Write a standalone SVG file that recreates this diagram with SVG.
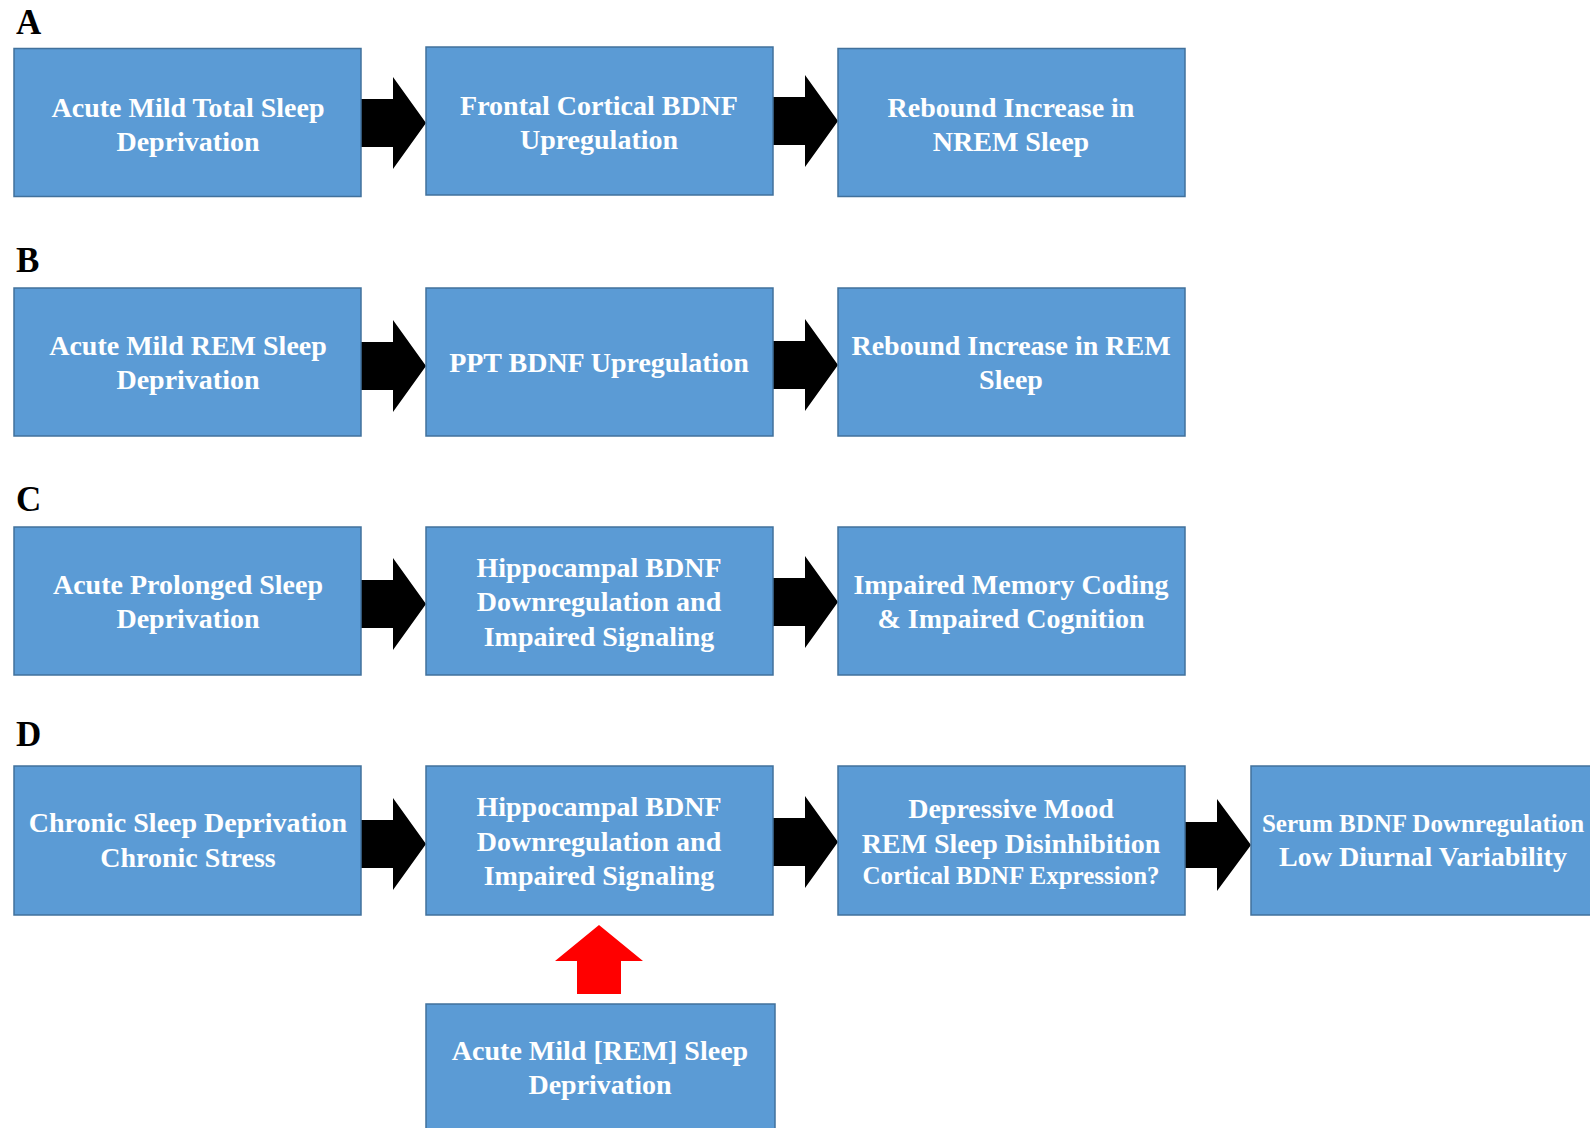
<svg xmlns="http://www.w3.org/2000/svg" width="1590" height="1128" viewBox="0 0 1590 1128">
<style>
.box{fill:#5b9bd5;stroke:#41719c;stroke-width:1.5}
.t{font-family:"Liberation Serif","Times New Roman",serif;font-weight:bold;font-size:28px;fill:#ffffff;text-anchor:middle}
.s{font-size:25px}
.lbl{font-family:"Liberation Serif","Times New Roman",serif;font-weight:bold;font-size:35px;fill:#000000}
.arr{fill:#000000}
</style>
<rect width="1590" height="1128" fill="#ffffff"/>
<g id="labels">
<text class="lbl" x="16" y="34">A</text>
<text class="lbl" x="16" y="272">B</text>
<text class="lbl" x="16" y="511">C</text>
<text class="lbl" x="16" y="746">D</text>
</g>
<g id="connectors">
<polygon class="arr" points="361,99 393,99 393,77 426,123 393,169 393,147 361,147"/>
<polygon class="arr" points="773,97 805,97 805,75 838,121 805,167 805,145 773,145"/>
<polygon class="arr" points="361,342 393,342 393,320 426,366 393,412 393,390 361,390"/>
<polygon class="arr" points="773,341 805,341 805,319 838,365 805,411 805,389 773,389"/>
<polygon class="arr" points="361,580 393,580 393,558 426,604 393,650 393,628 361,628"/>
<polygon class="arr" points="773,578 805,578 805,556 838,602 805,648 805,626 773,626"/>
<polygon class="arr" points="361,820 393,820 393,798 426,844 393,890 393,868 361,868"/>
<polygon class="arr" points="773,818 805,818 805,796 838,842 805,888 805,866 773,866"/>
<polygon class="arr" points="1185,822 1217,822 1217,799 1251,845 1217,891 1217,868 1185,868"/>
<polygon fill="#ff0000" points="577,994 577,961 555,961 599,925 643,961 621,961 621,994"/>
</g>
<g id="a1"><rect class="box" x="14" y="48.5" width="347" height="148"/>
<text class="t" x="188" y="117">Acute Mild Total Sleep</text>
<text class="t" x="188" y="151">Deprivation</text></g>
<g id="a2"><rect class="box" x="426" y="47" width="347" height="148"/>
<text class="t" x="599" y="115">Frontal Cortical BDNF</text>
<text class="t" x="599" y="149">Upregulation</text></g>
<g id="a3"><rect class="box" x="838" y="48.5" width="347" height="148"/>
<text class="t" x="1011" y="117">Rebound Increase in</text>
<text class="t" x="1011" y="151">NREM Sleep</text></g>

<g id="b1"><rect class="box" x="14" y="288" width="347" height="148"/>
<text class="t" x="188" y="355">Acute Mild REM Sleep</text>
<text class="t" x="188" y="389">Deprivation</text></g>
<g id="b2"><rect class="box" x="426" y="288" width="347" height="148"/>
<text class="t" x="599" y="372">PPT BDNF Upregulation</text></g>
<g id="b3"><rect class="box" x="838" y="288" width="347" height="148"/>
<text class="t" x="1011" y="355">Rebound Increase in REM</text>
<text class="t" x="1011" y="389">Sleep</text></g>

<g id="c1"><rect class="box" x="14" y="527" width="347" height="148"/>
<text class="t" x="188" y="594">Acute Prolonged Sleep</text>
<text class="t" x="188" y="628">Deprivation</text></g>
<g id="c2"><rect class="box" x="426" y="527" width="347" height="148"/>
<text class="t" x="599" y="577">Hippocampal BDNF</text>
<text class="t" x="599" y="611">Downregulation and</text>
<text class="t" x="599" y="646">Impaired Signaling</text></g>
<g id="c3"><rect class="box" x="838" y="527" width="347" height="148"/>
<text class="t" x="1011" y="594">Impaired Memory Coding</text>
<text class="t" x="1011" y="628">&amp; Impaired Cognition</text></g>

<g id="d1"><rect class="box" x="14" y="766" width="347" height="149"/>
<text class="t" x="188" y="832">Chronic Sleep Deprivation</text>
<text class="t" x="188" y="867">Chronic Stress</text></g>
<g id="d2"><rect class="box" x="426" y="766" width="347" height="149"/>
<text class="t" x="599" y="816">Hippocampal BDNF</text>
<text class="t" x="599" y="851">Downregulation and</text>
<text class="t" x="599" y="885">Impaired Signaling</text></g>
<g id="d3"><rect class="box" x="838" y="766" width="347" height="149"/>
<text class="t" x="1011" y="818">Depressive Mood</text>
<text class="t" x="1011" y="852.5">REM Sleep Disinhibition</text>
<text class="t s" x="1011" y="884">Cortical BDNF Expression?</text></g>
<g id="d4"><rect class="box" x="1251" y="766" width="346" height="149"/>
<text class="t s" x="1423" y="832">Serum BDNF Downregulation</text>
<text class="t" x="1423" y="866">Low Diurnal Variability</text></g>

<g id="e1"><rect class="box" x="426" y="1004" width="349" height="150"/>
<text class="t" x="600" y="1060">Acute Mild [REM] Sleep</text>
<text class="t" x="600" y="1094">Deprivation</text></g>
</svg>
